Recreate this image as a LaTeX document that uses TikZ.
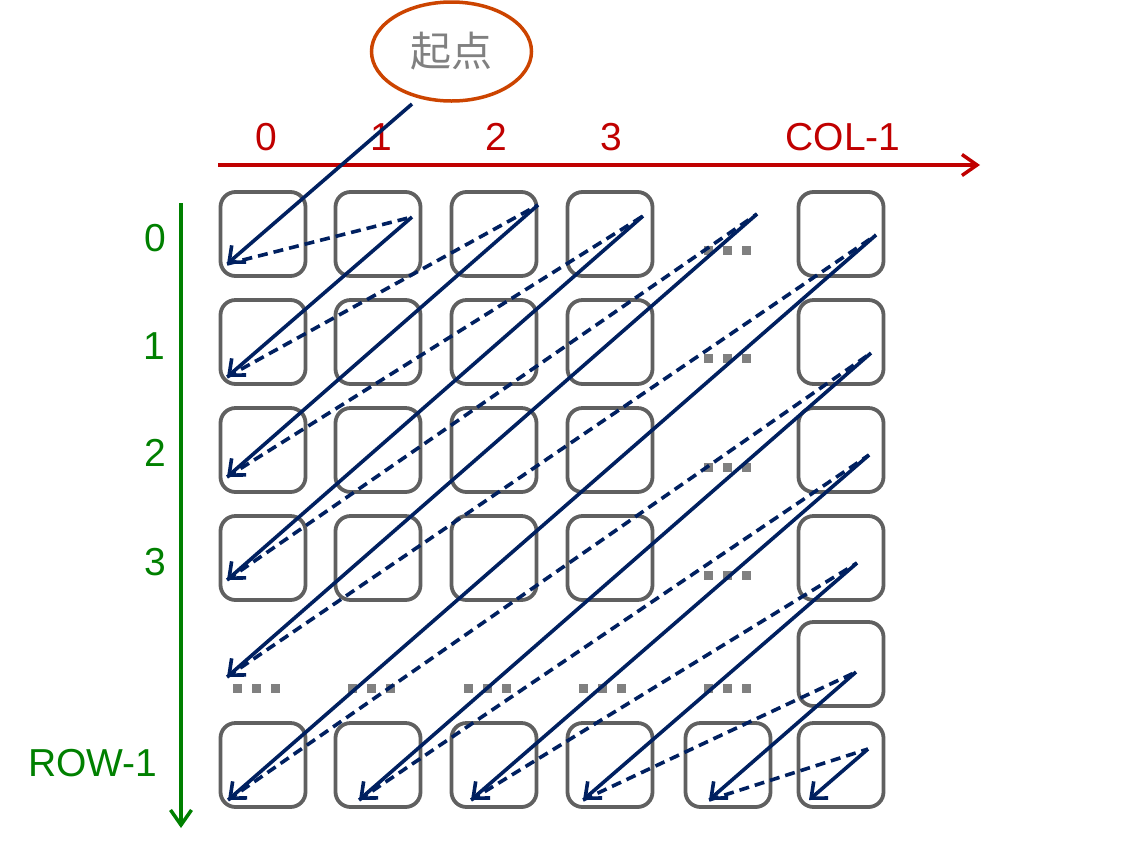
\documentclass[tikz,border=0pt]{standalone}
\usepackage{fontspec}
\setmainfont{Liberation Sans}
\newfontfamily\cjk{Noto Sans CJK SC}
\usetikzlibrary{arrows.meta,shapes.geometric}
\definecolor{navy}{RGB}{0,32,96}
\definecolor{axred}{RGB}{192,0,0}
\definecolor{axgreen}{RGB}{0,128,0}
\definecolor{boxgray}{RGB}{96,96,96}
\definecolor{dotgray}{RGB}{128,128,128}
\definecolor{ellred}{RGB}{204,68,0}
\definecolor{txtgray}{RGB}{128,128,128}
\begin{document}
\begin{tikzpicture}[x=1pt,y=-1pt,
  cell/.style={draw=boxgray, line width=3.8pt, rounded corners=15pt, minimum width=85pt, minimum height=84pt, inner sep=0pt},
  lbl/.style={font=\fontsize{39}{44}\selectfont, inner sep=0pt},
  redlbl/.style={lbl, text=axred},
  greenlbl/.style={lbl, text=axgreen},
  axis/.style={line width=3.5pt, -{Straight Barb[length=15pt,width=21pt]}},
  diag/.style={navy, line width=3.6pt, -{Straight Barb[length=13pt,width=22pt]}},
  link/.style={navy, line width=3.6pt, dash pattern=on 10pt off 6pt},
  dotsq/.style={fill=dotgray}
]
\useasboundingbox (0,0) rectangle (1145,847);

% boxes
\foreach \c/\x in {0/263,1/378,2/494,3/610,5/841}
  \foreach \r/\y in {0/234,1/342,2/450,3/558}
    \node[cell] (b\r\c) at (\x,\y) {};
\node[cell] (b45) at (841,664) {};
\foreach \c/\x in {0/263,1/378,2/494,3/610,4/728,5/841}
  \node[cell] (b5\c) at (\x,765) {};

% ellipsis dots
\foreach \x/\y in {708.5/250.5,708.5/358.5,708.5/467.5,708.5/575.5,
                   237.5/688,352.5/688,468.5/688,583.5/688,708.5/688}
  \foreach \k in {0,19,38}
    \fill[dotsq] (\x+\k-4.5,\y-4.5) rectangle ++(9,9);

% axes
\coordinate (xa0) at (218,165);
\coordinate (xa1) at (980,165);
\coordinate (ya0) at (181,203);
\coordinate (ya1) at (181,828);
\draw[axis, axred] (xa0) -- (xa1);
\draw[axis, axgreen] (ya0) -- (ya1);

\node[redlbl] (c0) at (266,137) {0};
\node[redlbl] (c1) at (381,137) {1};
\node[redlbl] (c2) at (496,137) {2};
\node[redlbl] (c3) at (611,137) {3};
\node[redlbl] (cn) at (843,137) {COL-1};

\node[greenlbl] (r0) at (155,238) {0};
\node[greenlbl] (r1) at (154,346) {1};
\node[greenlbl] (r2) at (155,453) {2};
\node[greenlbl] (r3) at (155,562) {3};
\node[greenlbl] (rn) at (93,763) {ROW-1};

% start ellipse
\node[ellipse, draw=ellred, line width=3.5pt, minimum width=160pt, minimum height=99pt, inner sep=0pt,
      text=txtgray, font=\cjk\fontsize{41}{46}\selectfont] (start) at (451.5,51.5) {起点};

% diagonal start and end points
\coordinate (s0) at (412,104);
\coordinate (s1) at (412,217);
\coordinate (s2) at (538,205);
\coordinate (s3) at (643,216);
\coordinate (s4) at (757,214);
\coordinate (s5) at (876,235);
\coordinate (s6) at (871,353);
\coordinate (s7) at (869,455);
\coordinate (s8) at (857,563);
\coordinate (s9) at (856,672);
\coordinate (s10) at (868,749);

\coordinate (e0) at (227,264);
\coordinate (e1) at (227,377);
\coordinate (e2) at (227,477);
\coordinate (e3) at (227,580);
\coordinate (e4) at (227,677);
\coordinate (e5) at (228,800);
\coordinate (e6) at (359,800);
\coordinate (e7) at (471,800);
\coordinate (e8) at (583,800);
\coordinate (e9) at (709,800);
\coordinate (e10) at (809,800);

% dashed links
\foreach \i [evaluate=\i as \j using int(\i+1)] in {0,...,9}
  \draw[link] (e\i) -- (s\j);

% solid diagonals
\foreach \i in {0,...,10}
  \draw[diag] (s\i) -- (e\i);

\end{tikzpicture}
\end{document}
